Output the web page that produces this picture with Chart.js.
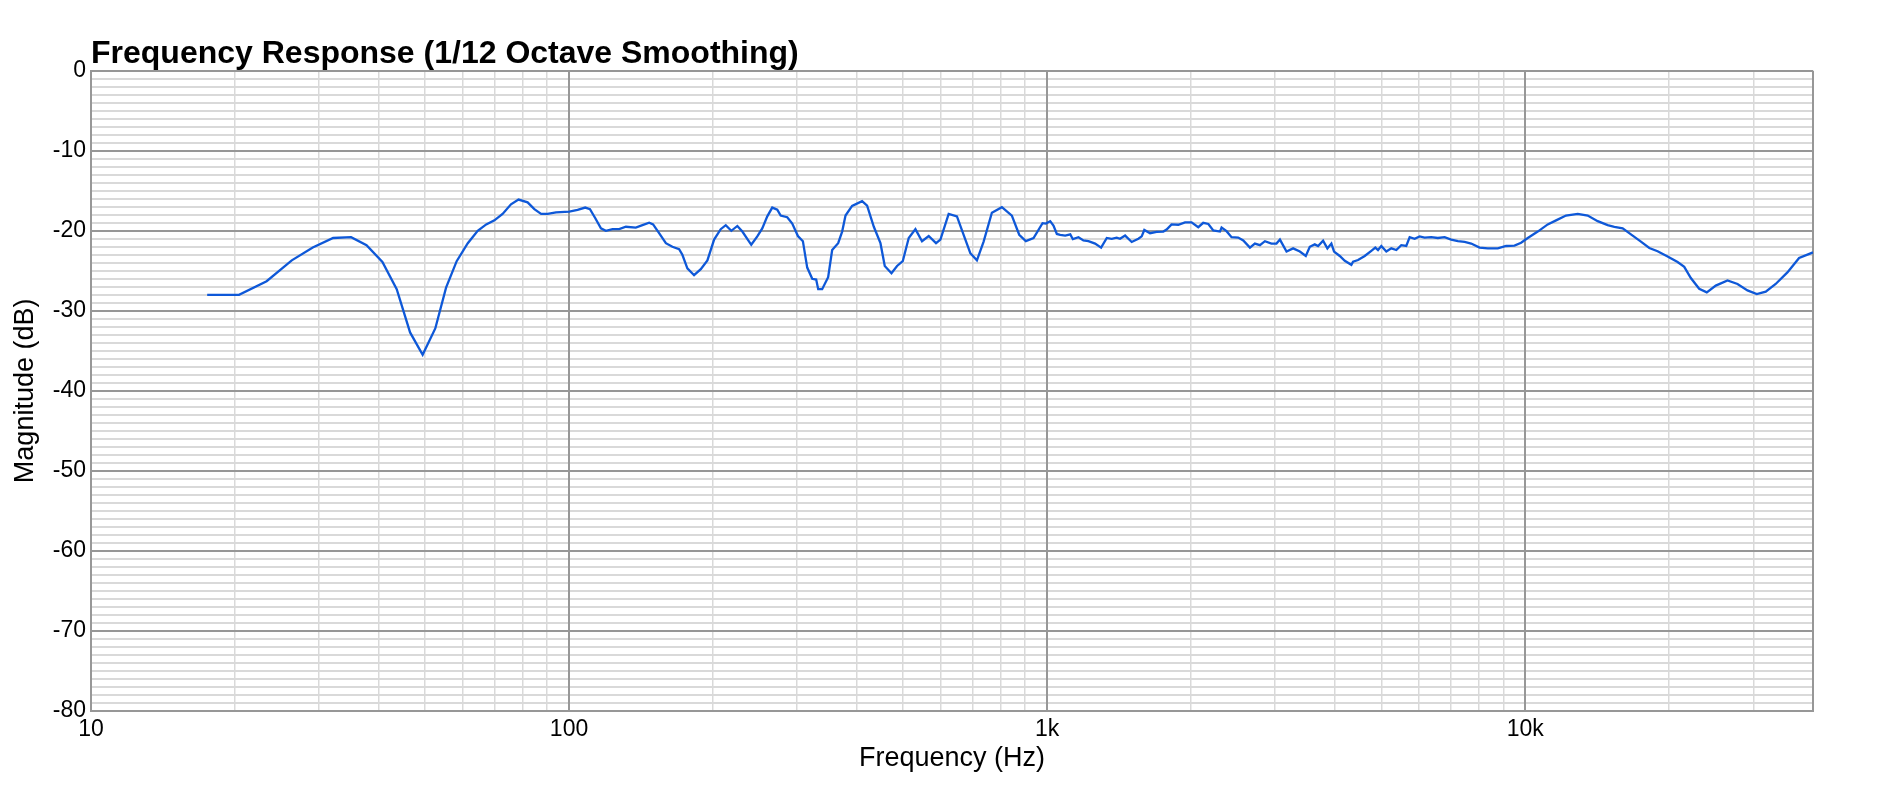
<!DOCTYPE html>
<html>
<head>
<meta charset="utf-8">
<script src="https://cdn.jsdelivr.net/npm/chart.js@4.4.1/dist/chart.umd.min.js"></script>
<style>
html,body{margin:0;padding:0;background:#fff;}
canvas{display:block;}
</style>
</head>
<body>
<canvas id="c" width="1878" height="790"></canvas>
<script>
// ---- data ----
const frequencies = [17.5, 20.4, 23.3, 26.3, 29.1, 32.1, 35.0, 37.7, 40.7, 43.6, 46.5, 49.4, 52.5, 55.3, 58.2, 61.4, 64.4, 67.1, 69.8, 72.6, 75.6, 78.4, 81.9, 84.6, 87.4, 90.2, 93.9, 100.1, 104.2, 108.1, 110.6, 113.4, 116.6, 119.4, 123.3, 127.3, 131.5, 137.9, 142.4, 147.1, 149.9, 154.3, 159.4, 164.5, 169.9, 172.6, 176.8, 182.6, 188.6, 194.7, 201.1, 207.6, 212.7, 218.5, 224.9, 230.4, 240.5, 247.6, 253.6, 259.8, 266.1, 272.6, 277.1, 286.0, 293.0, 301.1, 308.4, 314.9, 322.6, 328.8, 332.0, 338.4, 348.3, 355.1, 365.5, 372.6, 378.7, 390.9, 410.2, 420.2, 434.0, 448.1, 457.5, 472.5, 485.4, 498.9, 513.5, 530.3, 547.4, 565.3, 585.6, 598.1, 622.4, 647.7, 668.9, 690.8, 713.1, 736.5, 766.4, 804.2, 843.8, 874.3, 902.5, 936.7, 978.2, 993.8, 1015, 1031, 1048, 1065, 1091, 1118, 1132, 1163, 1191, 1220, 1260, 1297, 1333, 1365, 1398, 1421, 1456, 1503, 1552, 1577, 1597, 1642, 1695, 1750, 1778, 1821, 1881, 1943, 2005, 2071, 2121, 2174, 2226, 2299, 2317, 2373, 2431, 2510, 2572, 2656, 2720, 2787, 2855, 2946, 3018, 3069, 3168, 3270, 3378, 3476, 3544, 3630, 3688, 3778, 3857, 3932, 3983, 4094, 4194, 4329, 4365, 4471, 4617, 4766, 4859, 4922, 5001, 5123, 5248, 5376, 5506, 5640, 5733, 5872, 6015, 6161, 6359, 6567, 6783, 7002, 7232, 7469, 7710, 8027, 8354, 8766, 9122, 9499, 9806, 10126, 10624, 11147, 11604, 12171, 12881, 13515, 14180, 14877, 15365, 15992, 16643, 17463, 18183, 18923, 19858, 20836, 21514, 22209, 23120, 23983, 25045, 26501, 27807, 29174, 30511, 31859, 33420, 35358, 37410, 40000];
const magnitudes = [-28.0, -28.0, -26.3, -23.7, -22.1, -20.9, -20.8, -21.8, -23.9, -27.3, -32.7, -35.5, -32.2, -27.1, -23.8, -21.55, -20.0, -19.2, -18.7, -17.9, -16.7, -16.1, -16.45, -17.3, -17.9, -17.9, -17.7, -17.6, -17.4, -17.1, -17.3, -18.4, -19.7, -20.0, -19.8, -19.8, -19.5, -19.6, -19.3, -19.0, -19.2, -20.3, -21.55, -22.0, -22.3, -23.0, -24.7, -25.55, -24.8, -23.7, -21.1, -19.8, -19.3, -20.0, -19.4, -20.1, -21.75, -20.7, -19.7, -18.2, -17.1, -17.35, -18.1, -18.3, -19.1, -20.65, -21.3, -24.6, -26.0, -26.1, -27.3, -27.3, -25.8, -22.4, -21.55, -20.1, -18.1, -16.9, -16.3, -16.85, -19.5, -21.55, -24.4, -25.3, -24.4, -23.8, -20.9, -19.8, -21.3, -20.65, -21.55, -21.1, -17.9, -18.2, -20.5, -22.8, -23.7, -21.35, -17.75, -17.05, -18.1, -20.5, -21.3, -20.9, -19.05, -19.1, -18.8, -19.35, -20.4, -20.5, -20.6, -20.45, -21.05, -20.8, -21.2, -21.3, -21.6, -22.1, -20.9, -21.0, -20.85, -21.0, -20.6, -21.4, -21.0, -20.7, -19.9, -20.3, -20.15, -20.1, -19.85, -19.2, -19.25, -18.95, -18.95, -19.55, -19.0, -19.15, -19.95, -20.1, -19.6, -20.05, -20.8, -20.85, -21.2, -22.1, -21.6, -21.8, -21.3, -21.6, -21.6, -21.1, -22.6, -22.2, -22.6, -23.15, -22.0, -21.7, -21.9, -21.25, -22.2, -21.6, -22.6, -23.15, -23.75, -24.25, -23.85, -23.65, -23.15, -22.5, -22.1, -22.4, -21.9, -22.6, -22.2, -22.4, -21.8, -21.9, -20.8, -21.0, -20.7, -20.85, -20.8, -20.9, -20.8, -21.1, -21.3, -21.4, -21.6, -22.1, -22.2, -22.2, -21.9, -21.85, -21.5, -20.9, -20.1, -19.2, -18.7, -18.1, -17.9, -18.1, -18.8, -19.3, -19.5, -19.7, -20.45, -21.35, -22.15, -22.55, -23.2, -23.9, -24.5, -25.9, -27.25, -27.7, -26.85, -26.2, -26.65, -27.45, -27.9, -27.6, -26.65, -25.2, -23.4, -22.7];

// ---- axis ticks / labels ----
const xLabelValues = [10, 100, 1000, 10000];
const xLabelTexts = ['10', '100', '1k', '10k'];
const xDecades = [10, 100, 1000, 10000];
const xMultipliers = [1, 2, 3, 4, 5, 6, 7, 8, 9];
const xMin = 10, xMax = 40000;
const yMin = -80, yMax = 0, yMajorStep = 10, yMinorStep = 1;

const xGrid = [];
xDecades.forEach(d => xMultipliers.forEach(m => { const v = d * m; if (v >= xMin && v <= xMax) xGrid.push(v); }));
const yMinorGrid = [];
for (let v = yMin; v <= yMax; v += yMinorStep) yMinorGrid.push(v);
const yMajorGrid = yMinorGrid.filter(v => v % yMajorStep === 0);

const FONT = "'Liberation Sans', Arial, Helvetica, sans-serif";
const MAJOR = '#979797', MINOR = '#d9d9d9';

new Chart(document.getElementById('c'), {
  type: 'line',
  data: {
    datasets: [{
      data: frequencies.map((f, i) => ({x: f, y: magnitudes[i]})),
      borderColor: '#0e58d8',
      borderWidth: 2.3,
      pointRadius: 0,
      fill: false,
      tension: 0
    }]
  },
  options: {
    responsive: false,
    animation: false,
    devicePixelRatio: 1,
    layout: {padding: {left: 0, right: 65, top: 0, bottom: 0}},
    plugins: {
      legend: {display: false},
      tooltip: {enabled: false},
      title: {
        display: true,
        text: 'Frequency Response (1/12 Octave Smoothing)',
        align: 'start',
        fullSize: false,
        color: '#000',
        font: {family: FONT, size: 32, weight: 'bold', lineHeight: 1.0},
        padding: {top: 38, bottom: 0.7}
      }
    },
    scales: {
      x: {
        type: 'logarithmic',
        min: xMin,
        max: xMax,
        afterBuildTicks: s => { s.ticks = xGrid.map(v => ({value: v, major: xLabelValues.includes(v) || v === xMax})); },
        afterFit: s => { s.height = 79; },
        ticks: {
          autoSkip: false,
          maxRotation: 0,
          padding: 5,
          color: '#000',
          font: {family: FONT, size: 23},
          callback: v => { const i = xLabelValues.indexOf(v); return i >= 0 ? xLabelTexts[i] : ''; }
        },
        grid: {
          z: -2,
          drawTicks: false,
          color: c => (c.tick && c.tick.major) ? MAJOR : MINOR,
          lineWidth: c => (c.tick && c.tick.major) ? 2 : 1.5
        },
        border: {display: true, color: MAJOR, width: 2},
        title: {
          display: true,
          text: 'Frequency (Hz)',
          color: '#000',
          font: {family: FONT, size: 27},
          padding: {top: 0, bottom: 15.5}
        }
      },
      y: {
        type: 'linear',
        min: yMin,
        max: yMax,
        afterBuildTicks: s => { s.ticks = yMajorGrid.map(v => ({value: v, major: true})); },
        afterFit: s => { s.width = 91; },
        ticks: {
          autoSkip: false,
          padding: 5,
          color: '#000',
          font: {family: FONT, size: 23},
          callback: v => String(v)
        },
        grid: {
          z: -1,
          drawTicks: false,
          color: MAJOR,
          lineWidth: 2
        },
        border: {display: true, color: MAJOR, width: 2},
        title: {
          display: true,
          text: 'Magnitude (dB)',
          color: '#000',
          font: {family: FONT, size: 27},
          padding: {top: 9, bottom: 0}
        }
      },
      yMinor: {
        type: 'linear',
        position: 'left',
        min: yMin,
        max: yMax,
        afterBuildTicks: s => { s.ticks = yMinorGrid.map(v => ({value: v, major: false})); },
        afterFit: s => { s.width = 0; },
        ticks: {display: false, autoSkip: false},
        grid: {
          z: -3,
          drawTicks: false,
          color: MINOR,
          lineWidth: 2
        },
        border: {display: false},
        title: {display: false}
      }
    }
  }
});
</script>
</body>
</html>
